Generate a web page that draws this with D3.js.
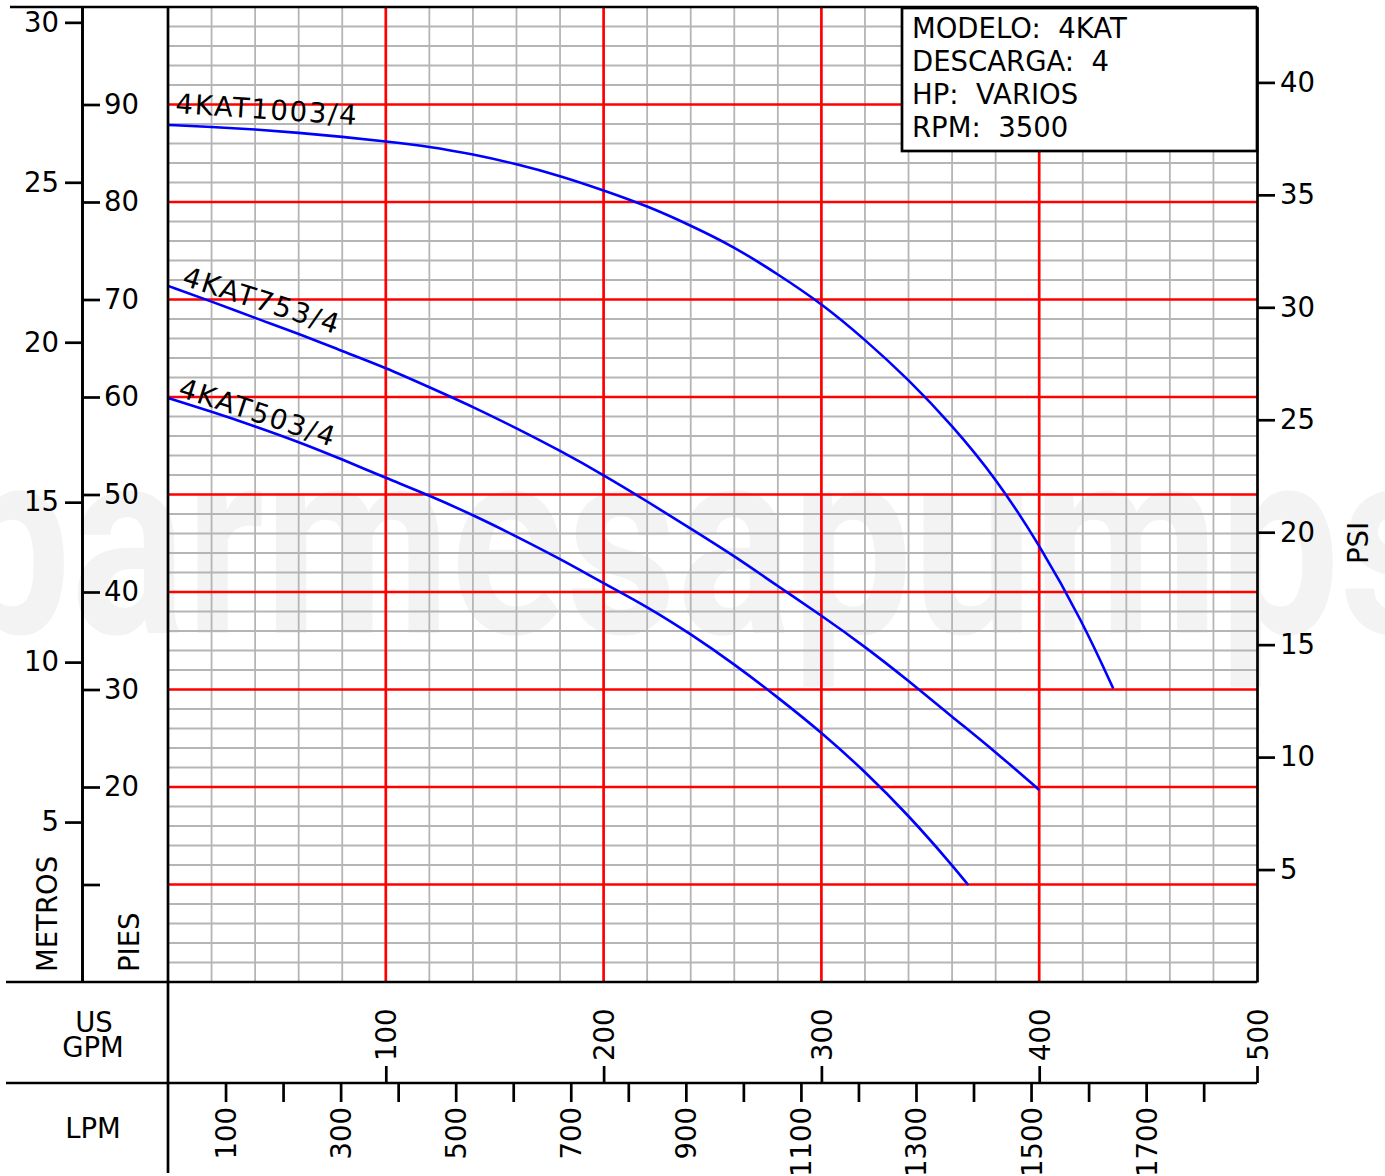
<!DOCTYPE html>
<html>
<head>
<meta charset="utf-8">
<script src="https://cdn.jsdelivr.net/npm/d3@7"></script>
<style>
  body { margin: 0; background: #fff; }
  svg { display: block; }
  text { font-family: "DejaVu Sans", sans-serif; }
</style>
</head>
<body>
<div id="chart"></div>
<script>
// curve data: flow in US GPM, head in feet
const gpm1003 = [0, 20, 40, 60, 80, 100, 120, 140, 160, 180, 200, 220, 240, 260, 280, 300, 320, 340, 360, 380, 400, 420, 434];
const head1003 = [87.9, 87.7, 87.45, 87.1, 86.7, 86.2, 85.7, 84.9, 83.9, 82.7, 81.2, 79.6, 77.6, 75.4, 72.6, 69.6, 65.9, 61.8, 57.1, 51.7, 44.9, 36.9, 30.1];

const gpm753 = [0, 20, 40, 60, 80, 100, 120, 140, 160, 180, 200, 220, 240, 260, 280, 300, 320, 340, 360, 380, 400];
const head753 = [71.4, 69.8, 68.1, 66.5, 64.7, 63.0, 61.0, 59.0, 56.8, 54.5, 52.0, 49.3, 46.5, 43.7, 40.6, 37.6, 34.4, 30.9, 27.2, 23.6, 19.7];

const gpm503 = [0, 20, 40, 60, 80, 100, 120, 140, 160, 180, 200, 220, 240, 260, 280, 300, 320, 340, 360, 367.4];
const head503 = [59.9, 58.5, 57.0, 55.4, 53.6, 51.7, 49.9, 47.9, 45.7, 43.4, 40.9, 38.5, 35.7, 32.6, 29.2, 25.6, 21.6, 17.1, 12.0, 9.95];

const curveNames = ["4KAT1003/4", "4KAT753/4", "4KAT503/4"];

// tick labels
const metrosTicks = [5, 10, 15, 20, 25, 30];
const piesTicks = [10, 20, 30, 40, 50, 60, 70, 80, 90];
const psiTicks = [5, 10, 15, 20, 25, 30, 35, 40];
const gpmTicks = [100, 200, 300, 400, 500];
const lpmTicks = [100, 200, 300, 400, 500, 600, 700, 800, 900, 1000, 1100, 1200, 1300, 1400, 1500, 1600, 1700, 1800];

const infoLines = ["MODELO:  4KAT", "DESCARGA:  4", "HP:  VARIOS", "RPM:  3500"];

const width = 1385, height = 1176;
const black = "#000", lw = 2.7, fs = 27.5;

const svg = d3.select("#chart").append("svg")
  .attr("width", width)
  .attr("height", height);

svg.append("rect").attr("width", width).attr("height", height).attr("fill", "#fff");

// scales - feet is the master, metres / psi derived from it
const x = d3.scaleLinear().domain([0, 500]).range([168, 1257]);
const xL = d3.scaleLinear().domain([0, 500 * 3.78541]).range([168, 1257]);
const y = d3.scaleLinear().domain([0, 100]).range([982, 7]);
const yM = d3.scaleLinear().domain([0, 100 * 0.3048]).range([982, 7]);
const yP = d3.scaleLinear().domain([0, 100 / 2.30666]).range([982, 7]);

const x0 = x(0), x1 = x(500), yb = y(0), yt = y(100);
const ySep = 1083;

// watermark
svg.append("text")
  .attr("x", -50)
  .attr("y", 633)
  .attr("textLength", 1500)
  .attr("lengthAdjust", "spacingAndGlyphs")
  .style("font-family", "Roboto")
  .style("font-weight", 700)
  .style("font-size", "265px")
  .attr("fill", "#f3f3f3")
  .text("barmesapumps");

// gray grid
const grid = svg.append("g");
grid.selectAll("line.gv")
  .data(d3.range(20, 500, 20).filter(d => d % 100 != 0))
  .enter().append("line")
  .attr("x1", d => x(d)).attr("x2", d => x(d))
  .attr("y1", yt).attr("y2", yb)
  .attr("stroke", "#b5b5b5").attr("stroke-width", 1.8);
grid.selectAll("line.gh")
  .data(d3.range(2, 100, 2).filter(d => d % 10 != 0))
  .enter().append("line")
  .attr("x1", x0).attr("x2", x1)
  .attr("y1", d => y(d)).attr("y2", d => y(d))
  .attr("stroke", "#b5b5b5").attr("stroke-width", 1.8);

// red grid
grid.selectAll("line.rh")
  .data(piesTicks)
  .enter().append("line")
  .attr("x1", x0).attr("x2", x1)
  .attr("y1", d => y(d)).attr("y2", d => y(d))
  .attr("stroke", "#ff0000").attr("stroke-width", 2.7);
grid.selectAll("line.rv")
  .data(gpmTicks.slice(0, 4))
  .enter().append("line")
  .attr("x1", d => x(d)).attr("x2", d => x(d))
  .attr("y1", yt).attr("y2", yb)
  .attr("stroke", "#ff0000").attr("stroke-width", 2.7);

// pump curves
const line = d3.line()
  .x(d => x(d[0]))
  .y(d => y(d[1]))
  .curve(d3.curveBasis);

const curves = [
  d3.zip(gpm1003, head1003),
  d3.zip(gpm753, head753),
  d3.zip(gpm503, head503)
];

svg.selectAll("path.curve")
  .data(curves)
  .enter().append("path")
  .attr("class", "curve")
  .attr("fill", "none")
  .attr("stroke", "#0000ff")
  .attr("stroke-width", 2.6)
  .attr("d", line);

// curve labels (offset / angle from curve start)
const labelPos = [
  {dx: 7, dy: -12, rot: 3.75},
  {dx: 13, dy: -1, rot: 17.7},
  {dx: 9, dy: -2, rot: 18.2}
];
svg.selectAll("text.clabel")
  .data(curveNames)
  .enter().append("text")
  .attr("class", "clabel")
  .attr("transform", (d, i) => {
    const p = labelPos[i];
    return "translate(" + (x(curves[i][0][0]) + p.dx) + "," + (y(curves[i][0][1]) + p.dy) + ") rotate(" + p.rot + ")";
  })
  .style("font-size", fs + "px")
  .style("letter-spacing", "1.8px")
  .text(d => d);

// frame
const frame = svg.append("g").attr("stroke", black).attr("stroke-width", lw);
frame.append("line").attr("x1", 10).attr("x2", x1).attr("y1", yt).attr("y2", yt);
frame.append("line").attr("x1", 6).attr("x2", x1).attr("y1", yb).attr("y2", yb);
frame.append("line").attr("x1", 6).attr("x2", x1).attr("y1", ySep).attr("y2", ySep);
frame.append("line").attr("x1", x0).attr("x2", x0).attr("y1", yt).attr("y2", 1173);

function styleAxis(g) {
  g.attr("font-size", fs);
  g.select(".domain").attr("stroke-width", lw);
  g.selectAll(".tick line").attr("stroke-width", lw);
}

// METROS axis
svg.append("g")
  .attr("transform", "translate(82,0)")
  .call(d3.axisLeft(yM).tickValues(metrosTicks).tickSize(17).tickSizeOuter(0).tickPadding(6))
  .call(styleAxis);

// PIES axis
svg.append("g")
  .attr("transform", "translate(82,0)")
  .call(d3.axisRight(y).tickValues(piesTicks).tickSize(18).tickSizeOuter(0).tickPadding(4)
    .tickFormat(d => d == 10 ? "" : d))
  .call(styleAxis);

// PSI axis
svg.append("g")
  .attr("transform", "translate(" + x1 + ",0)")
  .call(d3.axisRight(yP).tickValues(psiTicks).tickSize(18).tickSizeOuter(0).tickPadding(5))
  .call(styleAxis);

// US GPM axis
const gAx = svg.append("g")
  .attr("transform", "translate(0," + ySep + ")")
  .call(d3.axisTop(x).tickValues(gpmTicks).tickSize(17).tickSizeOuter(0))
  .call(styleAxis);
gAx.select(".domain").remove();
gAx.selectAll(".tick text")
  .attr("transform", "rotate(-90)")
  .attr("x", 22).attr("y", 10).attr("dy", null)
  .attr("text-anchor", "start");

// LPM axis
const lAx = svg.append("g")
  .attr("transform", "translate(0," + ySep + ")")
  .call(d3.axisBottom(xL).tickValues(lpmTicks).tickSize(19).tickSizeOuter(0)
    .tickFormat(d => (d / 100) % 2 == 1 ? d : ""))
  .call(styleAxis);
lAx.select(".domain").remove();
lAx.selectAll(".tick text")
  .attr("transform", "rotate(-90)")
  .attr("x", -24).attr("y", 10).attr("dy", null)
  .attr("text-anchor", "end");

// axis titles
svg.append("text")
  .attr("transform", "translate(57,972) rotate(-90)")
  .style("font-size", fs + "px")
  .text("METROS");
svg.append("text")
  .attr("transform", "translate(139,972) rotate(-90)")
  .style("font-size", fs + "px")
  .text("PIES");
svg.append("text")
  .attr("transform", "translate(1368,543) rotate(-90)")
  .attr("text-anchor", "middle")
  .style("font-size", fs + "px")
  .text("PSI");
svg.append("text")
  .attr("x", 94).attr("y", 1032)
  .attr("text-anchor", "middle")
  .style("font-size", fs + "px")
  .text("US");
svg.append("text")
  .attr("x", 93).attr("y", 1057)
  .attr("text-anchor", "middle")
  .style("font-size", fs + "px")
  .text("GPM");
svg.append("text")
  .attr("x", 93).attr("y", 1138)
  .attr("text-anchor", "middle")
  .style("font-size", fs + "px")
  .text("LPM");

// info box
svg.append("rect")
  .attr("x", 902).attr("y", yt + 1)
  .attr("width", x1 - 902).attr("height", 143)
  .attr("fill", "#fff")
  .attr("stroke", black).attr("stroke-width", lw);
svg.selectAll("text.info")
  .data(infoLines)
  .enter().append("text")
  .attr("class", "info")
  .attr("x", 912)
  .attr("y", (d, i) => 38 + i * 33)
  .style("font-size", fs + "px")
  .style("white-space", "pre")
  .text(d => d);
</script>
</body>
</html>
